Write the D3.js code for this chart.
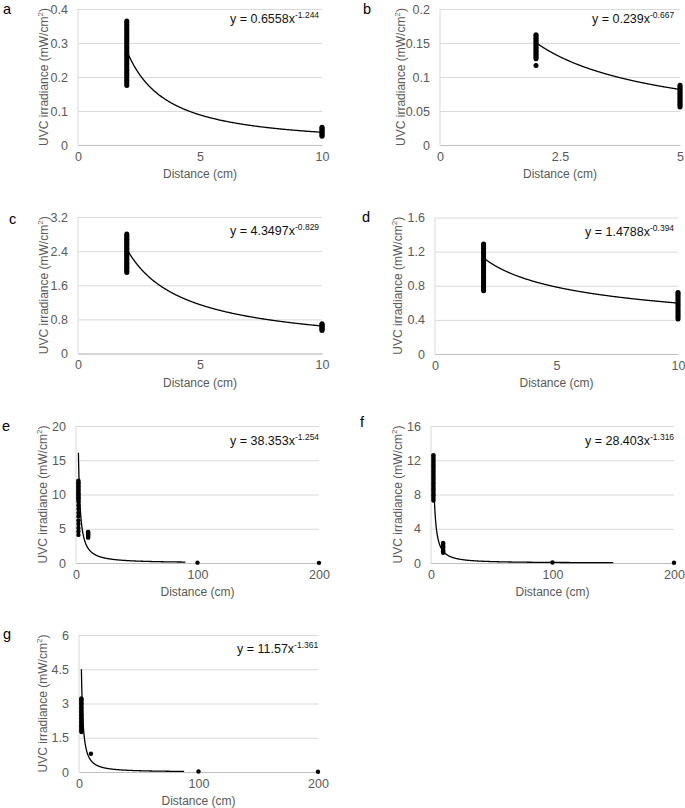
<!DOCTYPE html>
<html><head><meta charset="utf-8">
<script src="https://cdn.jsdelivr.net/npm/d3@7"></script>
<style>
body{margin:0;background:#fff}
svg{display:block}
text{font-family:"Liberation Sans",Arial,Helvetica,sans-serif}
</style>
</head><body>
<svg id="chart" width="685" height="808"></svg>
<script>
// ---------------- DATA ----------------
const panelLetters = ["a","b","c","d","e","f","g"];
const coefA = [0.6558, 0.239, 4.3497, 1.4788, 38.353, 28.403, 11.57];
const coefB = [-1.244, -0.667, -0.829, -0.394, -1.254, -1.316, -1.361];
const eqCoefText = ["0.6558","0.239","4.3497","1.4788","38.353","28.403","11.57"];
const eqExpText = ["-1.244","-0.667","-0.829","-0.394","-1.254","-1.316","-1.361"];
const trendStart = [2,2,2,2,2,2,2];
const trendEnd = [10,5,10,10,90,150,88];
const xMax = [10,5,10,10,200,200,200];
const yMax = [0.4,0.2,3.2,1.6,20,16,6];
const xTickVals = [[0,5,10],[0,2.5,5],[0,5,10],[0,5,10],[0,100,200],[0,100,200],[0,100,200]];
const xTickLabels = [["0","5","10"],["0","2.5","5"],["0","5","10"],["0","5","10"],["0","100","200"],["0","100","200"],["0","100","200"]];
const yTickVals = [[0,0.1,0.2,0.3,0.4],[0,0.05,0.1,0.15,0.2],[0,0.8,1.6,2.4,3.2],[0,0.4,0.8,1.2,1.6],[0,5,10,15,20],[0,4,8,12,16],[0,1.5,3,4.5,6]];
const yTickLabels = [["0","0.1","0.2","0.3","0.4"],["0","0.05","0.1","0.15","0.2"],["0","0.8","1.6","2.4","3.2"],["0","0.4","0.8","1.2","1.6"],["0","5","10","15","20"],["0","4","8","12","16"],["0","1.5","3","4.5","6"]];
const xTitle = "Distance (cm)";
const yTitleMain = "UVC irradiance (mW/cm";

// measured irradiance values at each distance
const aAt2 = [0.175,0.18,0.185,0.19,0.195,0.2,0.205,0.21,0.215,0.22,0.225,0.23,0.235,0.24,0.245,0.25,0.255,0.26,0.265,0.27,0.275,0.28,0.285,0.29,0.295,0.3,0.305,0.31,0.315,0.32,0.325,0.33,0.335,0.34,0.345,0.35,0.355,0.36,0.365];
const aAt10 = [0.026,0.029,0.032,0.035,0.038,0.041,0.044,0.047,0.05,0.052];
const bAt2 = [0.117,0.127,0.129,0.131,0.133,0.135,0.137,0.139,0.141,0.143,0.145,0.147,0.149,0.151,0.153,0.155,0.157,0.159,0.161,0.162];
const bAt5 = [0.056,0.058,0.060,0.062,0.064,0.066,0.068,0.070,0.072,0.074,0.076,0.078,0.080,0.082,0.084,0.086,0.088];
const cAt2 = [1.90,1.93,1.96,1.99,2.02,2.05,2.08,2.11,2.14,2.17,2.20,2.23,2.26,2.29,2.32,2.35,2.38,2.41,2.44,2.47,2.50,2.53,2.56,2.59,2.62,2.65,2.68,2.71,2.74,2.77,2.80];
const cAt10 = [0.54,0.56,0.58,0.60,0.62,0.64,0.66,0.68,0.70];
const dAt2 = [0.74,0.76,0.78,0.80,0.82,0.84,0.86,0.88,0.90,0.92,0.94,0.96,0.98,1.00,1.02,1.04,1.06,1.08,1.10,1.12,1.14,1.16,1.18,1.20,1.22,1.24,1.26,1.28,1.29];
const dAt10 = [0.41,0.43,0.45,0.47,0.49,0.51,0.53,0.55,0.57,0.59,0.61,0.63,0.65,0.67,0.69,0.71,0.72];
const eAt2 = [4.1,4.6,5.1,5.7,6.2,6.8,7.3,7.9,8.4,8.9,9.2,9.4,9.6,9.8,10.0,10.2,10.4,10.6,10.8,11.0,11.2,11.4,11.6,11.8,12.0];
const eAt10 = [3.7,3.85,4.0,4.15,4.3,4.45,4.55];
const eAt100 = [0.05];
const eAt200 = [0.02];
const fAt2 = [7.3,7.5,7.7,7.9,8.1,8.3,8.5,8.7,8.9,9.1,9.3,9.5,9.7,9.9,10.1,10.3,10.5,10.7,10.9,11.1,11.3,11.5,11.7,11.9,12.1,12.3,12.5,12.6];
const fAt10 = [1.2,1.35,1.5,1.65,1.8,1.95,2.1,2.25,2.35];
const fAt100 = [0.05];
const fAt200 = [0.03];
const gAt2 = [1.75,1.81,1.87,1.93,1.99,2.05,2.11,2.17,2.23,2.29,2.35,2.41,2.47,2.53,2.59,2.65,2.71,2.77,2.83,2.89,2.95,3.01,3.07,3.13,3.19,3.22];
const gAt10 = [0.8];
const gAt100 = [0.02];
const gAt200 = [0.01];

const measurements = [
  [[2,aAt2],[10,aAt10]],
  [[2,bAt2],[5,bAt5]],
  [[2,cAt2],[10,cAt10]],
  [[2,dAt2],[10,dAt10]],
  [[2,eAt2],[10,eAt10],[100,eAt100],[200,eAt200]],
  [[2,fAt2],[10,fAt10],[100,fAt100],[200,fAt200]],
  [[2,gAt2],[10,gAt10],[100,gAt100],[200,gAt200]]
];

// ---------------- LAYOUT ----------------
const layout = [
  {l:78,  r:322, t:9,   b:145, labX:3,   labY:13.5, yTX:44,  eqX:230, eqY:23,  rad:2.5},
  {l:440, r:680, t:9,   b:145, labX:363, labY:13.5, yTX:401, eqX:592, eqY:23,  rad:2.5},
  {l:78,  r:322, t:217, b:353.5, labX:9, labY:223.5, yTX:44, eqX:230, eqY:235, rad:2.5},
  {l:435, r:678, t:217.5, b:354, labX:362, labY:222, yTX:398, eqX:585, eqY:236, rad:2.5},
  {l:76,  r:319, t:426, b:563, labX:2,   labY:431,  yTX:43,  eqX:230, eqY:445, rad:2.2},
  {l:431, r:674, t:426, b:563, labX:360, labY:426.5, yTX:398, eqX:585, eqY:445, rad:2.2},
  {l:79,  r:318, t:635, b:772, labX:3,   labY:639,  yTX:43,  eqX:237, eqY:653, rad:2.2}
];

const svg = d3.select("#chart");
const gridColor = "#d9d9d9";
const labelColor = "#595959";

layout.forEach((L, i) => {
  const x = d3.scaleLinear().domain([0, xMax[i]]).range([L.l, L.r]);
  const y = d3.scaleLinear().domain([0, yMax[i]]).range([L.b, L.t]);
  const g = svg.append("g");

  // y gridlines + labels
  const yAxis = d3.axisLeft(y).tickValues(yTickVals[i])
    .tickSize(-(L.r - L.l)).tickPadding(10)
    .tickFormat((d, k) => yTickLabels[i][k]);
  const ya = g.append("g").attr("transform", `translate(${L.l},0)`).call(yAxis);
  ya.select(".domain").remove();
  ya.selectAll("line").attr("stroke", gridColor).attr("stroke-width", 1);
  ya.selectAll("text").attr("fill", labelColor).attr("font-size", 12.5);

  // left axis line
  g.append("line").attr("x1", L.l).attr("x2", L.l).attr("y1", L.t).attr("y2", L.b)
    .attr("stroke", gridColor).attr("stroke-width", 1);

  // x axis
  const xAxis = d3.axisBottom(x).tickValues(xTickVals[i]).tickSize(0).tickPadding(7)
    .tickFormat((d, k) => xTickLabels[i][k]);
  const xa = g.append("g").attr("transform", `translate(0,${L.b})`).call(xAxis);
  xa.select(".domain").attr("stroke", "#bfbfbf");
  xa.selectAll("text").attr("fill", labelColor).attr("font-size", 12.5);

  // axis titles
  g.append("text").attr("x", (L.l + L.r) / 2).attr("y", L.b + 33)
    .attr("text-anchor", "middle").attr("fill", labelColor).attr("font-size", 12)
    .text(xTitle);
  const yt = g.append("text")
    .attr("transform", `translate(${L.yTX},${(L.t + L.b) / 2}) rotate(-90)`)
    .attr("text-anchor", "middle").attr("dy", "0.35em")
    .attr("fill", labelColor).attr("font-size", 12);
  yt.append("tspan").text(yTitleMain);
  yt.append("tspan").attr("font-size", 8).attr("dy", -5).text("2");
  yt.append("tspan").attr("dy", 5).text(")");

  // panel letter
  g.append("text").attr("x", L.labX).attr("y", L.labY).attr("font-size", 14.5)
    .attr("fill", "#000").text(panelLetters[i]);

  // measurement points
  const pts = [];
  measurements[i].forEach(([dx, vals]) => vals.forEach(v => pts.push([dx, v])));
  g.append("g").selectAll("circle").data(pts).join("circle")
    .attr("cx", d => x(d[0])).attr("cy", d => y(d[1])).attr("r", L.rad)
    .attr("fill", "#000");

  // power trendline
  const n = 400;
  const samples = d3.range(n + 1).map(k => {
    const xv = trendStart[i] * Math.pow(trendEnd[i] / trendStart[i], k / n);
    return [xv, coefA[i] * Math.pow(xv, coefB[i])];
  });
  g.append("path").datum(samples)
    .attr("d", d3.line().x(d => x(d[0])).y(d => y(d[1])))
    .attr("fill", "none").attr("stroke", "#000").attr("stroke-width", 1.3);

  // equation
  const eq = g.append("text").attr("x", L.eqX).attr("y", L.eqY)
    .attr("font-size", 12.5).attr("fill", "#111");
  eq.append("tspan").text("y = " + eqCoefText[i] + "x");
  eq.append("tspan").attr("font-size", 8.5).attr("dy", -5).text(eqExpText[i]);
});
</script>
</body></html>
